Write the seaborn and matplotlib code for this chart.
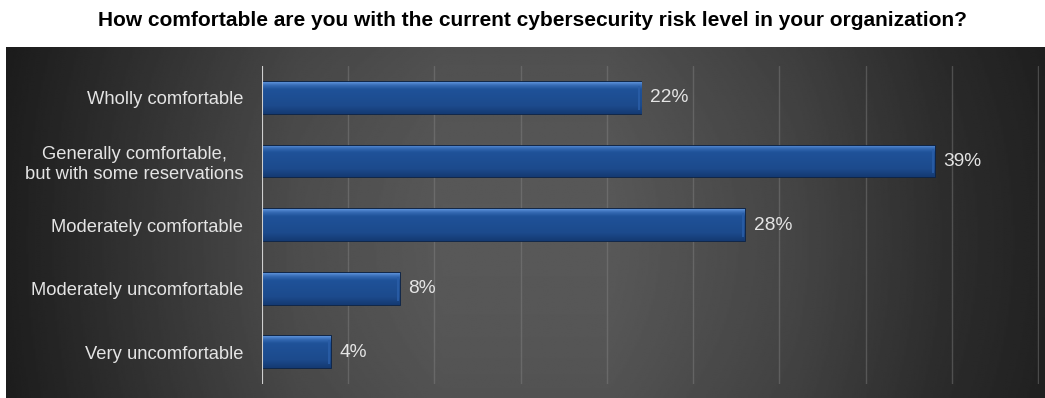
import numpy as np
import pandas as pd
import matplotlib
matplotlib.use("Agg")
import matplotlib.pyplot as plt
import seaborn as sns
from matplotlib.colors import to_rgb

# Survey answers and their shares (%)
categories = [
    "Wholly comfortable",
    "Generally comfortable,\nbut with some reservations",
    "Moderately comfortable",
    "Moderately uncomfortable",
    "Very uncomfortable",
]
shares = [22, 39, 28, 8, 4]
grid_ticks = [0, 5, 10, 15, 20, 25, 30, 35, 40, 45]
title = "How comfortable are you with the current cybersecurity risk level in your organization?"

sns.set_theme(style="white")
plt.rcParams["font.family"] = ["Liberation Sans", "DejaVu Sans"]

W, H = 1045, 398
fig = plt.figure(figsize=(W / 100, H / 100), dpi=100)
fig.patch.set_facecolor("white")

# Dark slide-style backdrop, lighter towards the middle
bg = fig.add_axes([6 / W, 0, (W - 6) / W, (H - 47) / H])
bg.set_axis_off()
yy, xx = np.mgrid[0:1:240j, 0:1:600j]
xp = [0.0, 0.14, 0.28, 0.42, 0.58, 0.76, 0.90, 1.0]
vp = [0.12, 0.21, 0.30, 0.345, 0.345, 0.27, 0.18, 0.135]
horiz = np.interp(xx, xp, vp)
vert = 1 - 0.10 * ((yy - 0.45) / 0.55) ** 2
shade = horiz * vert
bg.imshow(shade, cmap="gray", vmin=0, vmax=1, aspect="auto",
          extent=[0, 1, 0, 1], origin="lower", interpolation="bilinear")
bg.set_xlim(0, 1)
bg.set_ylim(0, 1)

ax = fig.add_axes([262 / W, (H - 384) / H, 777 / W, 318 / H])
ax.patch.set_alpha(0)

df = pd.DataFrame({"category": categories, "share": shares})
sns.barplot(data=df, x="share", y="category", orient="h", width=0.5,
            color="#1d4f95", edgecolor="#0c2448", linewidth=1.3,
            ax=ax, zorder=3)

# Bevelled fill inside every bar
stops = [(0.00, "#5a8fd6"), (0.10, "#3469b3"), (0.22, "#1f5299"),
         (0.75, "#1c4a8c"), (1.00, "#143a72")]
pos = np.linspace(0, 1, 64)
cols = np.array([to_rgb(c) for _, c in stops])
sp = np.array([p for p, _ in stops])
grad = np.stack([np.interp(pos, sp, cols[:, k]) for k in range(3)], axis=-1)
grad = np.repeat(grad[:, None, :], 4, axis=1)
for patch, value in zip(list(ax.patches), shares):
    x0, y0 = patch.get_x(), patch.get_y()
    w, h = patch.get_width(), patch.get_height()
    im = ax.imshow(grad, extent=[x0, x0 + w, y0 + h, y0], origin="upper",
                   aspect="auto", interpolation="bilinear", zorder=3.5)
    im.set_clip_path(patch)
    ax.plot([x0 + w - 0.12, x0 + w - 0.12], [y0 + h * 0.12, y0 + h * 0.88],
            color="#2a5ea8", lw=1.2, zorder=3.6, solid_capstyle="butt")
    ax.text(x0 + w + 0.5, y0 + h / 2, f"{value}%",
            va="center", ha="left", color="#e4e4e4", fontsize=13.8, zorder=5)

ax.set_xlim(0, 45.05)
ax.set_ylim(len(categories) - 0.5, -0.5)

# Vertical gridlines and the zero baseline
ax.set_xticks(grid_ticks)
ax.xaxis.grid(True, color="#8a8a8a", alpha=0.4, linewidth=1.0)
ax.set_axisbelow(True)
ax.tick_params(axis="x", bottom=False, labelbottom=False)
ax.tick_params(axis="y", left=False, length=0, pad=13.5, labelsize=13.2,
               labelcolor="#e4e4e4")
for lbl in ax.get_yticklabels():
    lbl.set_multialignment("center")
ax.axvline(0, color="#cfcfcf", linewidth=1.5, zorder=4)
for s in ax.spines.values():
    s.set_visible(False)
ax.set_xlabel("")
ax.set_ylabel("")

fig.text(532 / W, 1 - 21 / H, title, ha="center", va="center",
         fontsize=15, fontweight="bold", color="black")

fig.savefig("out.png", dpi=100)
